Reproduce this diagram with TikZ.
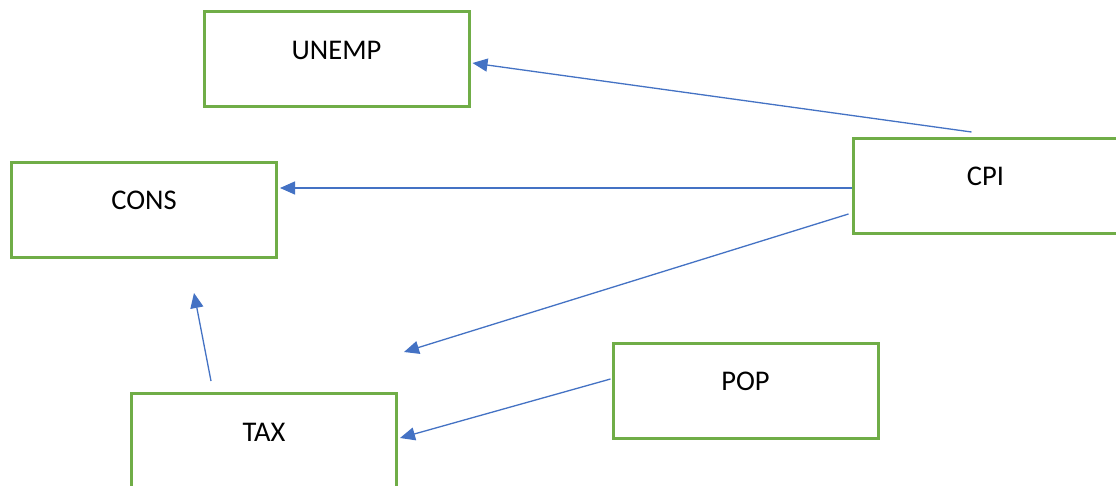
\documentclass[tikz,border=0pt]{standalone}
\usepackage{fontspec}
\setmainfont{Carlito}
\usetikzlibrary{arrows.meta}
\definecolor{boxgreen}{HTML}{70AD47}
\definecolor{arrblue}{HTML}{4472C4}
\tikzset{
  varbox/.style={draw=boxgreen, line width=3pt, rectangle, inner sep=0pt,
    minimum width=265pt, text height=47.5pt, text depth=47.5pt,
    font=\fontsize{28.5}{30}\selectfont, text=black},
  link/.style={draw=arrblue, line width=1.3pt,
    -{Triangle[length=15pt,width=13pt]}}
}
\begin{document}
\begin{tikzpicture}[x=1pt,y=-1pt]
\useasboundingbox (0,0) rectangle (1116,486);
\clip (0,0) rectangle (1116,486);
\fill[white] (0,0) rectangle (1116,486);
\node[varbox] (unemp) at (336.5,59.5) {UNEMP};
\node[varbox] (cons) at (144,210) {CONS};
\node[varbox] (cpi) at (985.5,186) {CPI};
\node[varbox] (pop) at (745.5,390.5) {POP};
\node[varbox] (tax) at (264,441) {TAX};
\coordinate (free) at (404,352);
\draw[link] ([shift={(120,-5)}]cpi.north west) -- ([shift={(2,3.5)}]unemp.east);
\draw[link] ([shift={(0,2)}]cpi.west) -- ([shift={(2,-22)}]cons.east);
\draw[link] ([shift={(-3,28)}]cpi.west) -- (free);
\draw[link] ([shift={(-53,-11)}]tax.north) -- ([shift={(50,34)}]cons.south);
\draw[link] ([shift={(-1,-11.5)}]pop.west) -- ([shift={(2,-3)}]tax.east);
\end{tikzpicture}
\end{document}
